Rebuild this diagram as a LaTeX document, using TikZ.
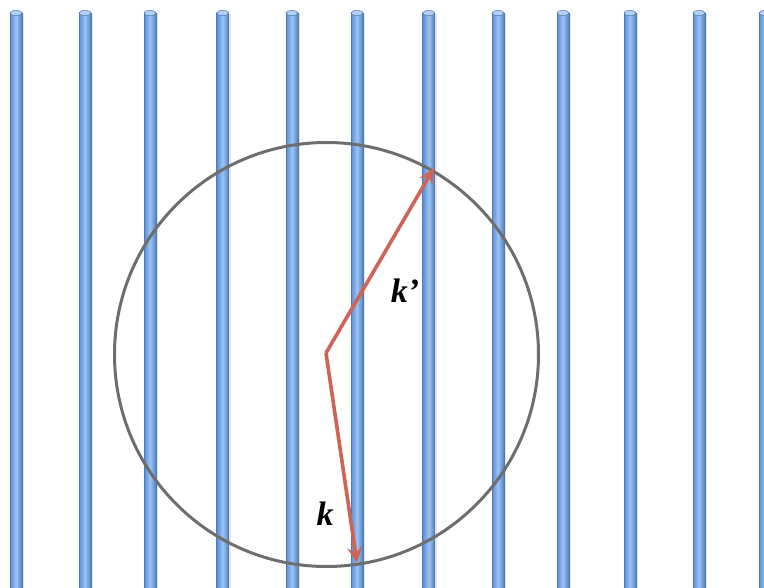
\documentclass[tikz,border=0pt]{standalone}
\usepackage{fontspec}
\setmainfont{Liberation Serif}
\usetikzlibrary{arrows.meta}
\definecolor{rodmid}{HTML}{9CC3F3}
\definecolor{rodedge}{HTML}{5B8FD6}
\definecolor{rodcap}{HTML}{B4D0F4}
\definecolor{arrowred}{HTML}{CF6456}
\definecolor{circgray}{HTML}{6E6E6E}
\tikzset{
  rod/.style={left color=rodedge, right color=rodedge!90!black, middle color=rodmid, draw=rodedge!85!black, line width=0.5pt},
  rodtop/.style={fill=rodcap, draw=rodedge!85!black, line width=0.5pt},
  vec/.style={draw=arrowred, line width=3.6pt, -{Stealth[length=16pt,width=15pt,inset=6pt]}},
  lbl/.style={font=\fontsize{34}{36}\selectfont\bfseries\itshape, inner sep=0pt},
}
\begin{document}
\begin{tikzpicture}[x=1pt,y=-1pt]
\useasboundingbox (0,0) rectangle (764,588);
\foreach \cx in {16,85,150,222.7,292,357,428.7,498,563,630,699,765}{
  \fill[black!10] (\cx-5,14) rectangle (\cx+8,590);
  \path[rod] (\cx-6,13) rectangle (\cx+6,592);
  \path[rodtop] (\cx,13) ellipse [x radius=6, y radius=2.6];
}
\coordinate (O) at (326,353);
\coordinate (Kp) at (434,168);
\coordinate (K) at (357,563);
\node[draw=circgray, line width=3pt, circle, minimum size=424pt, inner sep=0pt] (C) at (326.5,354.5) {};
\draw[vec] (O) -- (Kp);
\draw[vec] (O) -- (K);
\node[lbl] (lkp) at (405,291) {k’};
\node[lbl] (lk) at (325,514) {k};
\end{tikzpicture}
\end{document}
